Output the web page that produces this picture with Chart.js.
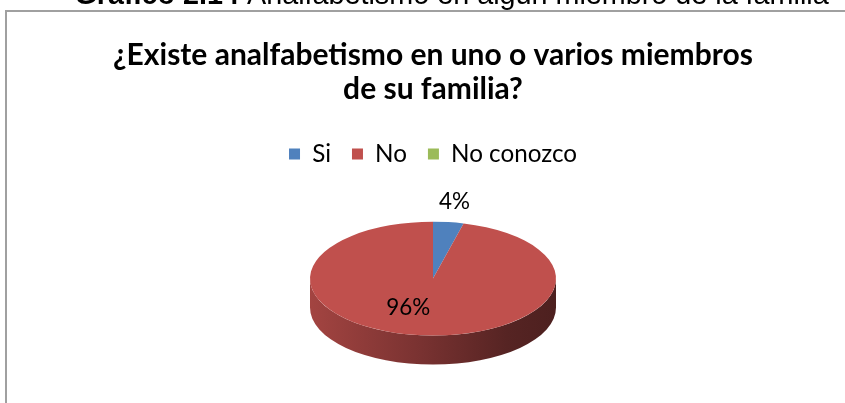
<!DOCTYPE html>
<html><head><meta charset="utf-8">
<script src="https://cdn.jsdelivr.net/npm/chart.js@4"></script>
<style>html,body{margin:0;padding:0;background:#fff;overflow:hidden}canvas{display:block}</style>
</head><body>
<canvas id="c" width="845" height="403"></canvas>
<script>
// ---- data ----
const categories = ['Si', 'No', 'No conozco'];
const percentValues = [4, 96, 0];
const seriesColors = ['#4f81bd', '#c0504d', '#9bbb59'];
const chartTitle = ['¿Existe analfabetismo en uno o varios miembros', 'de su familia?'];
const captionBold = 'Gráfico 2.14 ';
const captionText = 'Analfabetismo en algún miembro de la familia';

// ---- styling helpers ----
const FONT = 'Lato, "Open Sans", sans-serif';
const CAP_FONT = '"Liberation Sans", Arial, sans-serif';
function fitSize(text, weight, family, target) {
  const c = document.createElement('canvas').getContext('2d');
  c.font = weight + ' 100px ' + family;
  return 100 * target / c.measureText(text).width;
}
const titleSize = fitSize(chartTitle[0], 'bold', FONT, 640);
const legendSize = fitSize('No conozco', 'normal', FONT, 126);
const labelSize = fitSize('96%', 'normal', FONT, 44);
const capSize = fitSize(captionText, 'normal', CAP_FONT, 582);

const TILT = 0.463, DEPTH = 29;
function shade(hex, f) {
  const n = parseInt(hex.slice(1), 16);
  const r = (n >> 16) & 255, g = (n >> 8) & 255, b = n & 255;
  return `rgb(${Math.round(r * f)},${Math.round(g * f)},${Math.round(b * f)})`;
}

const frame = {
  id: 'frame',
  beforeDraw(chart) {
    const ctx = chart.ctx;
    ctx.save();
    ctx.fillStyle = '#fff';
    ctx.fillRect(0, 0, chart.width, chart.height);
    ctx.strokeStyle = '#a0a0a0';
    ctx.lineWidth = 2;
    ctx.strokeRect(6, 11, 1000, 600);
    ctx.fillStyle = '#000';
    ctx.textBaseline = 'alphabetic';
    ctx.textAlign = 'left';
    ctx.font = `bold ${capSize}px ${CAP_FONT}`;
    const bw = ctx.measureText(captionBold).width;
    ctx.fillText(captionBold, 247 - bw, 4);
    ctx.font = `${capSize}px ${CAP_FONT}`;
    ctx.fillText(captionText, 247, 4);
    ctx.restore();
  }
};

let pieSaved = false;
const pie3d = {
  id: 'pie3d',
  beforeDatasetsDraw(chart) {
    const ctx = chart.ctx;
    const arcs = chart.getDatasetMeta(0).data;
    if (!arcs.length) return;
    const cx = arcs[0].x, cy = arcs[0].y, rx = arcs[0].outerRadius, ry = rx * TILT;
    arcs.forEach((a, i) => {
      if (a.endAngle - a.startAngle <= 0) return;
      const col = seriesColors[i];
      for (const off of [-2 * Math.PI, 0, 2 * Math.PI]) {
        const s = Math.max(a.startAngle - off, 0), e = Math.min(a.endAngle - off, Math.PI);
        if (e <= s) continue;
        const g = ctx.createLinearGradient(cx - rx, 0, cx + rx, 0);
        g.addColorStop(0, shade(col, 0.85));
        g.addColorStop(0.45, shade(col, 0.63));
        g.addColorStop(0.8, shade(col, 0.45));
        g.addColorStop(1, shade(col, 0.4));
        ctx.beginPath();
        ctx.ellipse(cx, cy, rx, ry, 0, s, e, false);
        ctx.ellipse(cx, cy + DEPTH, rx, ry, 0, e, s, true);
        ctx.closePath();
        ctx.fillStyle = g;
        ctx.fill();
      }
    });
    ctx.save();
    pieSaved = true;
    ctx.translate(cx, cy);
    ctx.scale(1, TILT);
    ctx.translate(-cx, -cy);
  },
  afterDatasetsDraw(chart) {
    const ctx = chart.ctx;
    if (pieSaved) { ctx.restore(); pieSaved = false; }
    const arcs = chart.getDatasetMeta(0).data;
    const total = percentValues.reduce((p, q) => p + q, 0);
    ctx.save();
    ctx.font = `${labelSize}px ${FONT}`;
    ctx.fillStyle = '#000';
    ctx.textAlign = 'center';
    ctx.textBaseline = 'middle';
    arcs.forEach((a, i) => {
      const v = percentValues[i];
      if (!v) return;
      const frac = v / total;
      const mid = (a.startAngle + a.endAngle) / 2;
      const outside = frac < 0.1;
      const fx = outside ? 1.4 : 1.6;
      const fy = outside ? 1.36 : 0.52;
      const x = a.x + Math.cos(mid) * a.outerRadius * fx;
      const y = a.y + Math.sin(mid) * a.outerRadius * TILT * fy;
      ctx.fillText(Math.round(frac * 100) + '%', x, y);
    });
    ctx.restore();
  }
};

new Chart(document.getElementById('c'), {
  type: 'pie',
  data: {
    labels: categories,
    datasets: [{
      data: percentValues,
      backgroundColor: seriesColors,
      borderWidth: 0,
      radius: 123,
      clip: false
    }]
  },
  options: {
    responsive: false,
    animation: false,
    events: [],
    layout: { padding: { left: 21, right: 0, top: 0, bottom: 22 } },
    plugins: {
      title: {
        display: true,
        text: chartTitle,
        color: '#000',
        font: { family: FONT, size: titleSize, weight: 'bold', lineHeight: 34 / titleSize },
        padding: { top: 38, bottom: 15 }
      },
      legend: {
        position: 'top',
        labels: {
          boxWidth: 11, boxHeight: 11, padding: 21, color: '#000',
          font: { family: FONT, size: legendSize }
        }
      },
      tooltip: { enabled: false }
    }
  },
  plugins: [frame, pie3d]
});
</script>
</body></html>
